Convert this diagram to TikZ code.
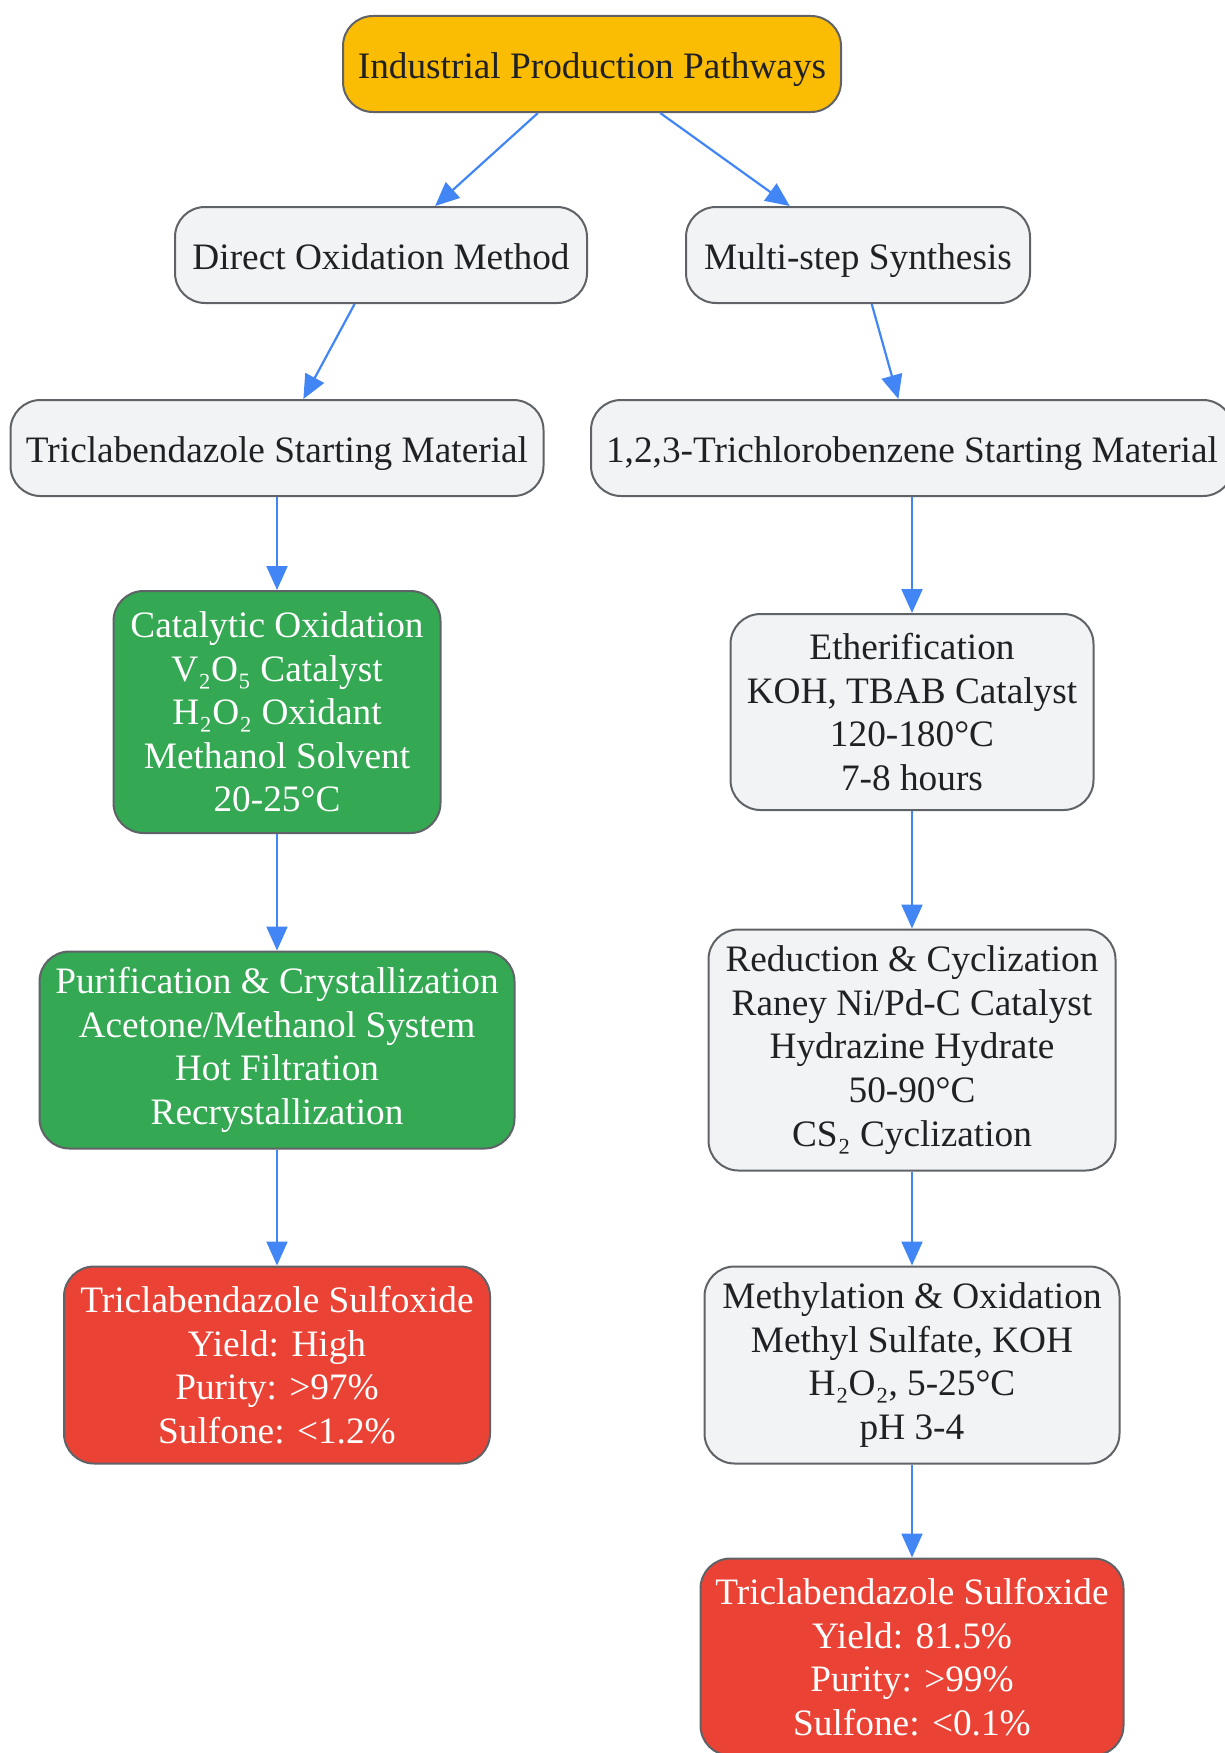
\documentclass[tikz,border=0pt]{standalone}
\usepackage{fontspec}
\setmainfont{Liberation Serif}
\usetikzlibrary{arrows.meta}

\definecolor{rootyellow}{HTML}{FBBC04}
\definecolor{stepgray}{HTML}{F1F3F4}
\definecolor{oxgreen}{HTML}{34A853}
\definecolor{resultred}{HTML}{EA4335}
\definecolor{boxline}{HTML}{5F6368}
\definecolor{flowblue}{HTML}{4285F4}
\definecolor{darktext}{HTML}{202124}

\tikzset{
  box/.style={draw=boxline, line width=2pt, rounded corners=30pt, align=center,
    font=\fontsize{37.3}{43.6}\selectfont, inner xsep=12pt, text=darktext},
  oneline/.style={text height=33pt, text depth=5pt, minimum height=96pt},
  rootbox/.style={box, oneline, fill=rootyellow},
  stepbox/.style={box, fill=stepgray},
  greenbox/.style={box, fill=oxgreen, text=white},
  redbox/.style={box, fill=resultred, text=white},
  flow/.style={draw=flowblue, line width=2.2pt, -{Triangle[length=24pt,width=21pt]}}
}

\begin{document}
\begin{tikzpicture}[x=1pt,y=-1pt]
    \useasboundingbox (0,0) rectangle (1224,1753);
    %% top
    \node[rootbox, minimum width=498pt] (root) at (592,64) {Industrial Production Pathways};
    \node[stepbox, oneline, minimum width=412pt] (direct) at (381,255) {Direct Oxidation Method};
    \node[stepbox, oneline, minimum width=344pt] (multi) at (858,255) {Multi-step Synthesis};
    %% left branch
    \node[stepbox, oneline, minimum width=533pt] (tsm) at (277,448) {Triclabendazole Starting Material};
    \node[greenbox, minimum width=327pt, minimum height=242pt] (catox) at (277,712)
        {Catalytic Oxidation\\V₂O₅ Catalyst\\H₂O₂ Oxidant\\Methanol Solvent\\20-25°C};
    \node[greenbox, minimum width=475pt, minimum height=197pt] (purif) at (277,1050)
        {Purification \& Crystallization\\Acetone/Methanol System\\Hot Filtration\\Recrystallization};
    \node[redbox, minimum width=426pt, minimum height=197pt] (sulfoxA) at (277,1365)
        {Triclabendazole Sulfoxide\\Yield: High\\Purity: >97\%\\Sulfone: <1.2\%};
    %% right branch
    \node[stepbox, oneline, minimum width=642pt] (tcb) at (912,448) {1,2,3-Trichlorobenzene Starting Material};
    \node[stepbox, minimum width=363pt, minimum height=196pt] (ether) at (912,712)
        {Etherification\\KOH, TBAB Catalyst\\120-180°C\\7-8 hours};
    \node[stepbox, minimum width=407pt, minimum height=241pt] (reduc) at (912,1050)
        {Reduction \& Cyclization\\Raney Ni/Pd-C Catalyst\\Hydrazine Hydrate\\50-90°C\\CS₂ Cyclization};
    \node[stepbox, minimum width=415pt, minimum height=197pt] (methyl) at (912,1365)
        {Methylation \& Oxidation\\Methyl Sulfate, KOH\\H₂O₂, 5-25°C\\pH 3-4};
    \node[redbox, minimum width=423pt, minimum height=197pt] (sulfoxB) at (912,1657)
        {Triclabendazole Sulfoxide\\Yield: 81.5\%\\Purity: >99\%\\Sulfone: <0.1\%};
    %% connectors
    \draw[flow] (root) -- (direct);
    \draw[flow] (root) -- (multi);
    \draw[flow] (direct) -- (tsm);
    \draw[flow] (multi) -- (tcb);
    \draw[flow] (tsm) -- (catox);
    \draw[flow] (catox) -- (purif);
    \draw[flow] (purif) -- (sulfoxA);
    \draw[flow] (tcb) -- (ether);
    \draw[flow] (ether) -- (reduc);
    \draw[flow] (reduc) -- (methyl);
    \draw[flow] (methyl) -- (sulfoxB);
\end{tikzpicture}
\end{document}
